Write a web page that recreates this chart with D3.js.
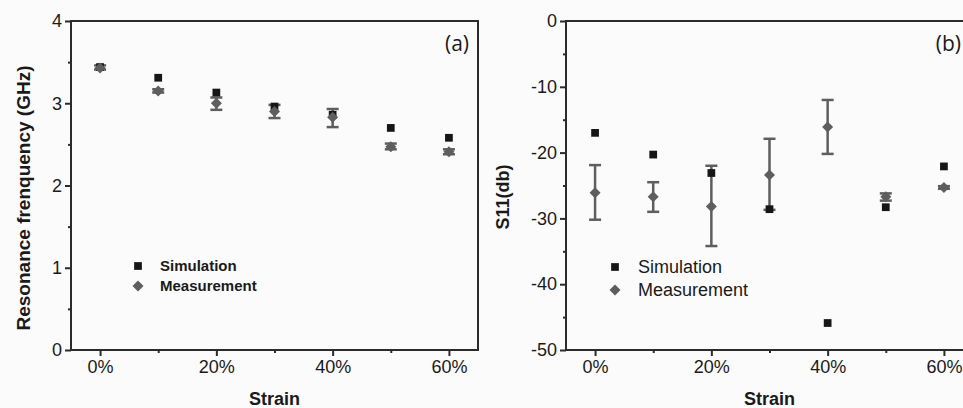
<!DOCTYPE html>
<html lang="en">
<head>
<meta charset="UTF-8" />
<title>Resonance frequency and S11 vs strain</title>
<script src="https://d3js.org/d3.v7.min.js"></script>
<style>
  body { margin: 0; background: #fbfbfb; overflow: hidden; }
  svg { display: block; }
  text { font-family: "Liberation Sans", Arial, sans-serif; fill: #1a1a1a; }
  .tick-label { font-size: 18px; }
  .axis-title { font-size: 18px; font-weight: bold; }
  .panel-tag { font-family: "Open Sans", sans-serif; font-size: 21px; }
</style>
</head>
<body>
<svg id="chart" width="963" height="408"></svg>
<script>
// ---- data (strain in %) ----
const strain = [0, 10, 20, 30, 40, 50, 60];
const xTicks = [0, 20, 40, 60];

// panel (a): resonance frequency, GHz
const freqSim = [3.44, 3.31, 3.13, 2.96, 2.86, 2.70, 2.58];
const freqMeas = [3.43, 3.15, 3.00, 2.90, 2.83, 2.47, 2.41];
const freqErrLo = [3.41, 3.13, 2.92, 2.82, 2.71, 2.44, 2.38];
const freqErrHi = [3.46, 3.17, 3.07, 2.98, 2.93, 2.51, 2.44];

// panel (b): S11, dB
const s11Sim = [-17.0, -20.3, -23.1, -28.6, -45.9, -28.3, -22.1];
const s11Meas = [-26.1, -26.7, -28.2, -23.4, -16.1, -26.7, -25.3];
const s11ErrLo = [-30.2, -29.0, -34.2, -28.7, -20.2, -27.3, -25.5];
const s11ErrHi = [-21.9, -24.5, -22.0, -17.9, -12.0, -26.2, -25.1];

const svg = d3.select("#chart");
const axisColor = "#2b2b2b";
const simColor = "#161616";
const measColor = "#5e5e5e";

const panels = [
  {
    left: 71, right: 478, top: 21, bottom: 350,
    yDomain: [0, 4], yMajor: [0, 1, 2, 3, 4], yMinor: [0.5, 1.5, 2.5, 3.5],
    sim: freqSim, meas: freqMeas, lo: freqErrLo, hi: freqErrHi,
    yTitle: "Resonance frenquency (GHz)", yTitleX: 23, yTitleY: 198, yTitleSize: 19,
    tag: "(a)", tagX: 469,
    legend: { x: 138, y1: 266, y2: 286, tx: 160, size: 15, bold: true }
  },
  {
    left: 566, right: 973, top: 21, bottom: 350,
    yDomain: [-50, 0], yMajor: [-50, -40, -30, -20, -10, 0], yMinor: [-45, -35, -25, -15, -5],
    sim: s11Sim, meas: s11Meas, lo: s11ErrLo, hi: s11ErrHi,
    yTitle: "S11(db)", yTitleX: 503, yTitleY: 197, yTitleSize: 18,
    tag: "(b)", tagX: 961,
    legend: { x: 615, y1: 267, y2: 290, tx: 638, size: 18, bold: false }
  }
];

// square-ish diamond like the original plot marker
const diamondPath = (w, h) => `M0,${-h}L${w},0L0,${h}L${-w},0Z`;

panels.forEach(p => {
  const x = d3.scaleLinear().domain([-5, 65]).range([p.left, p.right]);
  const y = d3.scaleLinear().domain(p.yDomain).range([p.bottom, p.top]);
  const g = svg.append("g");

  // frame
  g.append("rect")
    .attr("x", p.left).attr("y", p.top)
    .attr("width", p.right - p.left).attr("height", p.bottom - p.top)
    .attr("fill", "none").attr("stroke", axisColor).attr("stroke-width", 2);

  // y axis ticks
  const yAxis = g.append("g").attr("transform", `translate(${p.left},0)`)
    .call(d3.axisLeft(y).tickValues(p.yMajor).tickSize(6).tickPadding(3).tickFormat(d => String(d)));
  yAxis.select(".domain").remove();
  yAxis.selectAll("line").attr("stroke", axisColor).attr("stroke-width", 2);
  yAxis.selectAll("text").attr("class", "tick-label").attr("fill", "#1a1a1a")
    .style("font-size", "18px").style("font-family", "'Liberation Sans', Arial, sans-serif");

  const yMinor = g.append("g").attr("transform", `translate(${p.left},0)`)
    .call(d3.axisLeft(y).tickValues(p.yMinor).tickSize(3).tickFormat(""));
  yMinor.select(".domain").remove();
  yMinor.selectAll("line").attr("stroke", axisColor).attr("stroke-width", 2);

  // x axis ticks
  const xAxis = g.append("g").attr("transform", `translate(0,${p.bottom})`)
    .call(d3.axisBottom(x).tickValues(xTicks).tickSize(6).tickPadding(4).tickFormat(d => d + "%"));
  xAxis.select(".domain").remove();
  xAxis.selectAll("line").attr("stroke", axisColor).attr("stroke-width", 2);
  xAxis.selectAll("text").attr("class", "tick-label").attr("fill", "#1a1a1a")
    .style("font-size", "18px").style("font-family", "'Liberation Sans', Arial, sans-serif");

  const xMinor = g.append("g").attr("transform", `translate(0,${p.bottom})`)
    .call(d3.axisBottom(x).tickValues(strain.filter(s => !xTicks.includes(s))).tickSize(3).tickFormat(""));
  xMinor.select(".domain").remove();
  xMinor.selectAll("line").attr("stroke", axisColor).attr("stroke-width", 2);

  // titles
  g.append("text").attr("class", "axis-title")
    .attr("x", (p.left + p.right) / 2).attr("y", 405)
    .attr("text-anchor", "middle").text("Strain");
  g.append("text").attr("class", "axis-title")
    .style("font-size", p.yTitleSize + "px")
    .attr("transform", `translate(${p.yTitleX},${p.yTitleY}) rotate(-90)`)
    .attr("dy", "0.35em").attr("text-anchor", "middle").text(p.yTitle);
  g.append("text").attr("class", "panel-tag")
    .attr("x", p.tagX).attr("y", 51).attr("text-anchor", "end").text(p.tag);

  // error bars
  const eb = g.append("g").attr("stroke", measColor).attr("stroke-width", 2.5);
  strain.forEach((s, i) => {
    const cx = x(s);
    eb.append("line").attr("x1", cx).attr("x2", cx).attr("y1", y(p.lo[i])).attr("y2", y(p.hi[i]));
    eb.append("line").attr("x1", cx - 6).attr("x2", cx + 6).attr("y1", y(p.lo[i])).attr("y2", y(p.lo[i]));
    eb.append("line").attr("x1", cx - 6).attr("x2", cx + 6).attr("y1", y(p.hi[i])).attr("y2", y(p.hi[i]));
  });

  const square = d3.symbol().type(d3.symbolSquare).size(60);
  const diamond = diamondPath(5.5, 5.5);

  // simulation squares
  g.selectAll(".sim").data(strain).join("path")
    .attr("class", "sim")
    .attr("transform", (s, i) => `translate(${x(s)},${y(p.sim[i])})`)
    .attr("d", square).attr("fill", simColor);

  // measurement diamonds
  g.selectAll(".meas").data(strain).join("path")
    .attr("class", "meas")
    .attr("transform", (s, i) => `translate(${x(s)},${y(p.meas[i])})`)
    .attr("d", diamond).attr("fill", measColor);

  // legend
  const L = p.legend;
  g.append("path").attr("transform", `translate(${L.x},${L.y1})`).attr("d", square).attr("fill", simColor);
  g.append("path").attr("transform", `translate(${L.x},${L.y2})`).attr("d", diamond).attr("fill", measColor);
  [["Simulation", L.y1], ["Measurement", L.y2]].forEach(([t, ly]) => {
    g.append("text")
      .attr("x", L.tx).attr("y", ly).attr("dy", "0.35em")
      .style("font-size", L.size + "px")
      .style("font-weight", L.bold ? "bold" : "normal")
      .text(t);
  });
});
</script>
</body>
</html>
